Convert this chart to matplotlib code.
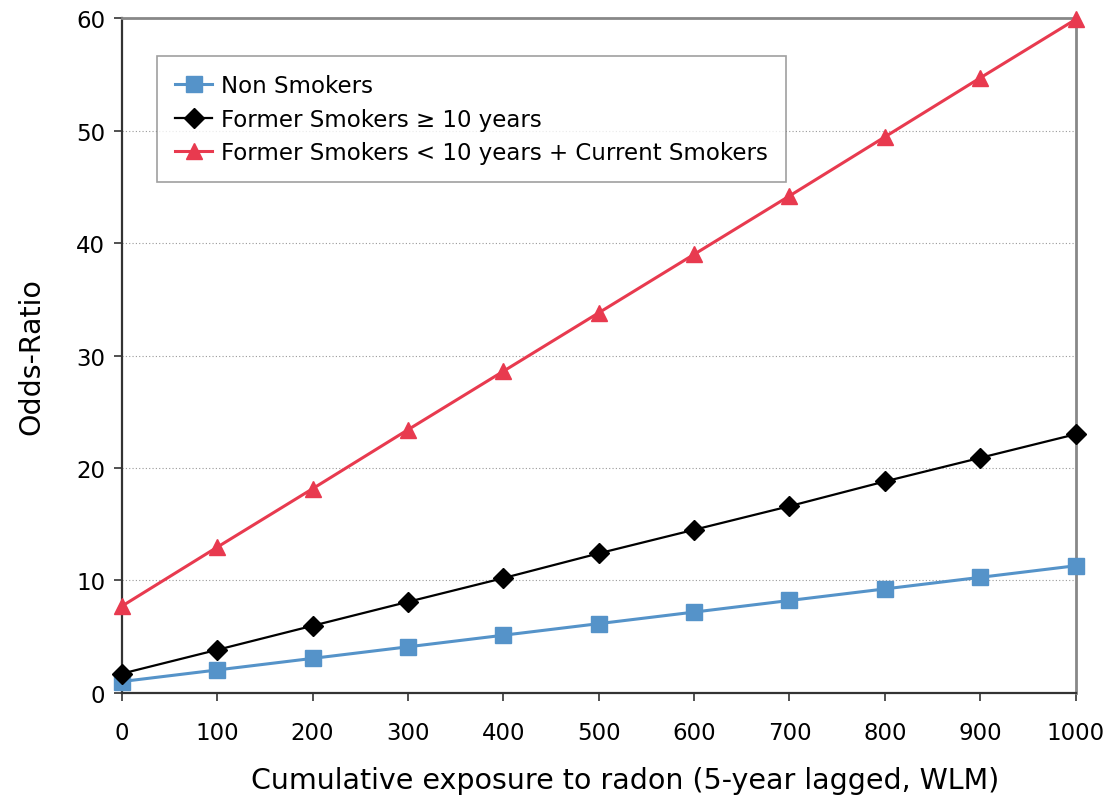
import matplotlib.pyplot as plt

# radon exposure (WLM) and odds ratios per smoking group
exposure = [0, 100, 200, 300, 400, 500, 600, 700, 800, 900, 1000]
non_smokers = [1.0, 2.03, 3.06, 4.09, 5.12, 6.15, 7.18, 8.21, 9.24, 10.27, 11.3]
former_10plus = [1.7, 3.82, 5.96, 8.09, 10.2, 12.4, 14.5, 16.6, 18.8, 20.9, 23.0]
former_lt10_current = [7.7, 12.95, 18.15, 23.4, 28.6, 33.8, 39.0, 44.2, 49.45, 54.7, 59.9]

plt.rcParams['font.family'] = ['DejaVu Sans']

fig = plt.figure(figsize=(11.17, 8.03), dpi=100)
ax = fig.add_axes([0.109, 0.136, 0.854, 0.840])

ax.plot(exposure, non_smokers, color='#5593c9', lw=2.2, marker='s', ms=11,
        label='Non Smokers', zorder=3, clip_on=False)
ax.plot(exposure, former_10plus, color='black', lw=1.6, marker='D', ms=10,
        label='Former Smokers \u2265 10 years', zorder=3, clip_on=False)
ax.plot(exposure, former_lt10_current, color='#e83a4f', lw=2.2, marker='^', ms=12,
        label='Former Smokers < 10 years + Current Smokers', zorder=3, clip_on=False)

ax.set_xlim(0, 1000)
ax.set_ylim(0, 60)
ax.set_xticks(range(0, 1001, 100))
ax.set_yticks(range(0, 61, 10))
ax.tick_params(labelsize=16.5, length=6, width=1.2, colors='#333333', labelcolor='black')
ax.tick_params(axis='x', pad=14)
ax.tick_params(axis='y', pad=6)
ax.grid(axis='y', linestyle=(0, (1, 2)), color='#999999', lw=0.8)

for side in ['top', 'right']:
    ax.spines[side].set_color('#888888')
    ax.spines[side].set_linewidth(2)
for side in ['left', 'bottom']:
    ax.spines[side].set_color('#333333')
    ax.spines[side].set_linewidth(1.6)

ax.set_xlabel('Cumulative exposure to radon (5-year lagged, WLM)', fontsize=20.5,
              labelpad=16, x=0.528)
ax.set_ylabel('Odds-Ratio', fontsize=20.5, labelpad=22)

leg = ax.legend(loc='upper left', bbox_to_anchor=(0.037, 0.944), fontsize=16.5,
                frameon=True, fancybox=False, edgecolor='#888888',
                handlelength=1.6, handletextpad=0.4, borderpad=0.8,
                labelspacing=0.45, borderaxespad=0)
leg.get_frame().set_linewidth(1.2)

fig.savefig('out.png', dpi=100)
